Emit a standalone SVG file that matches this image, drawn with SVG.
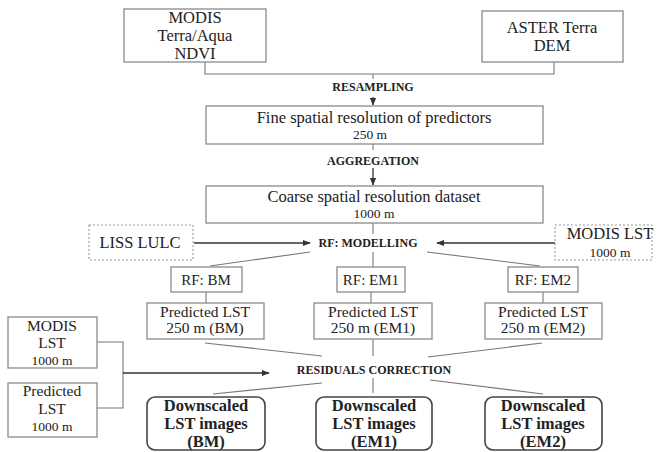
<svg xmlns="http://www.w3.org/2000/svg" width="657" height="452" viewBox="0 0 657 452">
<defs>
<style>
text{font-family:"Liberation Serif","DejaVu Serif",serif;fill:#222;text-anchor:middle}
.t{font-size:16.5px}
.m{font-size:15.5px}
.r{font-size:15px}
.s{font-size:13.5px}
.lb{font-size:12px;font-weight:bold}
.d{font-size:16.5px;font-weight:bold}
.box{fill:#fff;stroke:#8a8a8a;stroke-width:1.3}
.dash{fill:#fff;stroke:#999;stroke-width:1.1;stroke-dasharray:2 2}
.rb{fill:#fff;stroke:#444;stroke-width:1.6}
.ln{fill:none;stroke:#777;stroke-width:1.1}
.ar{fill:none;stroke:#333;stroke-width:1.3}
</style>
<marker id="ah" viewBox="0 0 10 10" refX="9" refY="5" markerWidth="6" markerHeight="6" orient="auto"><path d="M0,1 L10,5 L0,9 z" fill="#333"/></marker>
</defs>
<g id="connectors">
<polyline class="ln" points="205,62 205,74 554,74 554,62"/>
<line class="ln" x1="373" y1="74" x2="373" y2="79"/>
<line class="ar" x1="373" y1="97" x2="373" y2="105" marker-end="url(#ah)"/>
<line class="ln" x1="373" y1="144" x2="373" y2="150"/>
<line class="ar" x1="373" y1="168" x2="373" y2="185" marker-end="url(#ah)"/>
<line class="ln" x1="373" y1="223" x2="373" y2="234"/>
<line class="ar" x1="194" y1="243" x2="310" y2="243" marker-end="url(#ah)"/>
<line class="ar" x1="555" y1="243" x2="437" y2="243" marker-end="url(#ah)"/>
<line class="ln" x1="310" y1="252" x2="210" y2="266"/>
<line class="ln" x1="373" y1="252" x2="373" y2="267"/>
<line class="ln" x1="427" y1="252" x2="540" y2="266"/>
<line class="ln" x1="206" y1="292" x2="206" y2="303"/>
<line class="ln" x1="371" y1="292" x2="371" y2="303"/>
<line class="ln" x1="543" y1="292" x2="543" y2="303"/>
<line class="ln" x1="205" y1="343" x2="322" y2="356"/>
<line class="ln" x1="373" y1="339" x2="373" y2="356"/>
<line class="ln" x1="542" y1="343" x2="428" y2="357"/>
<line class="ln" x1="322" y1="383" x2="213" y2="394"/>
<line class="ln" x1="373" y1="378" x2="373" y2="393"/>
<line class="ln" x1="430" y1="380" x2="543" y2="394"/>
<polyline class="ln" points="97,342 123,342 123,408 97,408"/>
<line class="ar" x1="123" y1="373" x2="269" y2="373" marker-end="url(#ah)"/>
</g>
<g id="labels">
<text class="lb" x="373" y="91">RESAMPLING</text>
<text class="lb" x="373" y="165">AGGREGATION</text>
<text class="lb" x="368" y="247">RF: MODELLING</text>
<text class="lb" x="374" y="374">RESIDUALS CORRECTION</text>
</g>
<g id="modis-ndvi"><rect class="box" x="124" y="9" width="142" height="53"/>
<text class="t" x="195" y="23">MODIS</text><text class="t" x="195" y="41">Terra/Aqua</text><text class="t" x="195" y="59">NDVI</text></g>
<g id="aster-dem"><rect class="box" x="482" y="11" width="141" height="51"/>
<text class="t" x="552" y="33">ASTER Terra</text><text class="t" x="552" y="51">DEM</text></g>
<g id="fine"><rect class="box" x="206" y="106" width="337" height="38"/>
<text class="t" x="374" y="123">Fine spatial resolution of predictors</text><text class="s" x="370" y="139">250 m</text></g>
<g id="coarse"><rect class="box" x="206" y="186" width="337" height="37"/>
<text class="t" x="374" y="202">Coarse spatial resolution dataset</text><text class="s" x="374" y="218">1000 m</text></g>
<g id="liss"><rect class="dash" x="89" y="225" width="104" height="35"/>
<text class="t" x="140" y="248">LISS LULC</text></g>
<g id="modis-lst-r"><rect class="dash" x="555" y="225" width="97" height="35"/>
<text class="t" x="610" y="239">MODIS LST</text><text class="s" x="610" y="257">1000 m</text></g>
<g id="rf-bm"><rect class="box" x="171" y="267" width="71" height="25"/><text class="r" x="206" y="285">RF: BM</text></g>
<g id="rf-em1"><rect class="box" x="337" y="267" width="68" height="25"/><text class="r" x="371" y="285">RF: EM1</text></g>
<g id="rf-em2"><rect class="box" x="508" y="267" width="70" height="25"/><text class="r" x="543" y="285">RF: EM2</text></g>
<g id="pred-bm"><rect class="box" x="147" y="303" width="117" height="36"/>
<text class="m" x="205" y="317">Predicted LST</text><text class="m" x="205" y="333">250 m (BM)</text></g>
<g id="pred-em1"><rect class="box" x="314" y="303" width="118" height="36"/>
<text class="m" x="373" y="317">Predicted LST</text><text class="m" x="373" y="333">250 m (EM1)</text></g>
<g id="pred-em2"><rect class="box" x="485" y="303" width="117" height="36"/>
<text class="m" x="543" y="317">Predicted LST</text><text class="m" x="543" y="333">250 m (EM2)</text></g>
<g id="modis-lst-l"><rect class="box" x="8" y="317" width="89" height="51"/>
<text class="m" x="52" y="331">MODIS</text><text class="m" x="52" y="348">LST</text><text class="s" x="52" y="365">1000 m</text></g>
<g id="pred-lst-l"><rect class="box" x="8" y="383" width="89" height="54"/>
<text class="m" x="52" y="396">Predicted</text><text class="m" x="52" y="414">LST</text><text class="s" x="52" y="431">1000 m</text></g>
<g id="down-bm"><rect class="rb" x="147" y="397" width="118" height="53" rx="8"/>
<text class="d" x="206" y="411">Downscaled</text><text class="d" x="206" y="429">LST images</text><text class="d" x="206" y="447">(BM)</text></g>
<g id="down-em1"><rect class="rb" x="316" y="397" width="116" height="53" rx="8"/>
<text class="d" x="374" y="411">Downscaled</text><text class="d" x="374" y="429">LST images</text><text class="d" x="374" y="447">(EM1)</text></g>
<g id="down-em2"><rect class="rb" x="485" y="397" width="117" height="53" rx="8"/>
<text class="d" x="543" y="411">Downscaled</text><text class="d" x="543" y="429">LST images</text><text class="d" x="543" y="447">(EM2)</text></g>
</svg>
